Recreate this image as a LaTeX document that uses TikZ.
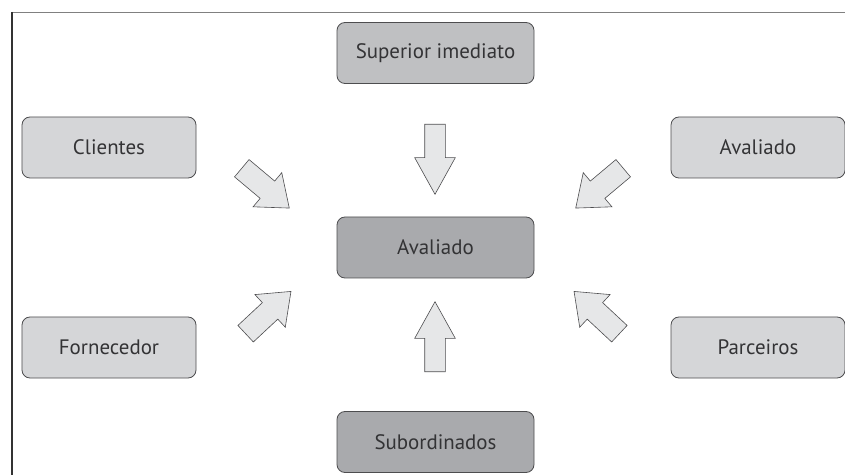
\documentclass[tikz,border=0pt]{standalone}
\usepackage{fontspec}
\setsansfont{PT Sans}
\usepackage{xcolor}
\usetikzlibrary{shapes.arrows}

\definecolor{claro}{HTML}{D5D6D8}
\definecolor{medio}{HTML}{BFC0C2}
\definecolor{escuro}{HTML}{A9AAAD}
\definecolor{seta}{HTML}{E6E7E8}
\definecolor{borda}{HTML}{4D4D4F}
\definecolor{texto}{HTML}{333335}

\begin{document}
\begin{tikzpicture}[
    x=1bp, y=-1bp,
    caixa/.style={rectangle, rounded corners=8bp, draw=borda, line width=0.8bp,
        minimum height=61bp, text=texto, font=\sffamily\fontsize{21}{21}\selectfont},
    larga/.style={caixa, minimum width=197bp},
    curta/.style={caixa, minimum width=174bp},
    seta reta/.style={single arrow, draw=borda, fill=seta, line width=0.6bp,
        inner xsep=0pt, inner ysep=10bp, text height=0pt, text depth=0pt,
        minimum height=70bp, single arrow head extend=10bp, single arrow tip angle=58},
    seta diag/.style={single arrow, draw=borda, fill=seta, line width=0.6bp,
        inner xsep=0pt, inner ysep=11bp, text height=0pt, text depth=0pt,
        minimum height=62bp, single arrow head extend=11bp, single arrow tip angle=76}
]
\useasboundingbox (0,0) rectangle (845,475);

% moldura
\draw[line width=1.2bp, color=black!50] (12,12.5) -- (845,12.5);
\draw[line width=1.5bp, color=black!80] (12,12) -- (12,475);

% avaliado no centro
\node[larga, fill=escuro] (ava) at (435.5,247.5) {Avaliado};

% fontes de avaliacao
\node[larga, fill=medio] (sup) at (435.5,53) {Superior imediato};
\node[curta, fill=claro] (cli) at (109,147.5) {Clientes};
\node[curta, fill=claro] (auto) at (758,147.5) {Avaliado};
\node[curta, fill=claro] (forn) at (109,347.5) {Fornecedor};
\node[curta, fill=claro] (parc) at (758,347.5) {Parceiros};
\node[larga, fill=escuro] (sub) at (435.5,442) {Subordinados};

% setas para o avaliado
\node[seta reta, rotate=-90] (s1) at (435,150) {};
\node[seta reta, rotate=90] (s2) at (435,346) {};
\node[seta diag, rotate=-40] (s3) at (260,183.5) {};
\node[seta diag, rotate=-140] (s4) at (605,183.5) {};
\node[seta diag, rotate=43] (s5) at (263,317.5) {};
\node[seta diag, rotate=137] (s6) at (602,317.5) {};

\end{tikzpicture}
\end{document}
